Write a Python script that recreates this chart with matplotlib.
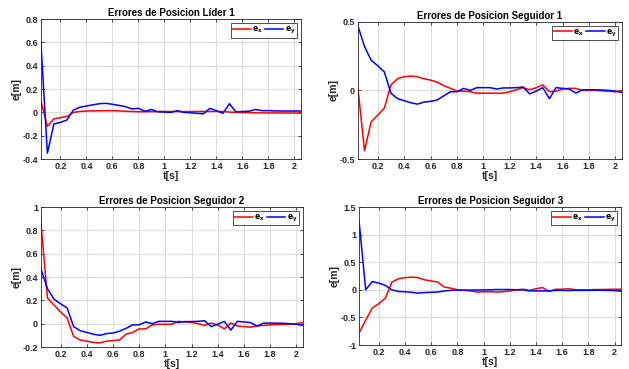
import matplotlib.pyplot as plt
import numpy as np

plt.rcParams['font.family'] = ['Liberation Sans', 'DejaVu Sans']
plt.rcParams['font.weight'] = 'bold'
plt.rcParams['mathtext.default'] = 'bf'

# time vector
t = np.round(np.arange(0.05, 2.051, 0.05), 2)

# errors of leader 1
lider_ex = [0.1, -0.12, -0.055, -0.045, -0.035, 0.0, 0.008, 0.012, 0.013, 0.014,
            0.015, 0.015, 0.013, 0.01, 0.008, 0.006, 0.006, 0.007, 0.008, 0.008,
            0.008, 0.008, 0.007, 0.007, 0.008, 0.008, 0.008, 0.009, 0.008, 0.003,
            0.0, -0.002, -0.002, -0.003, -0.004, -0.004, -0.004, -0.005, -0.005, -0.005,
            -0.006]
lider_ey = [0.6, -0.35, -0.1, -0.085, -0.065, 0.02, 0.045, 0.055, 0.065, 0.075,
            0.078, 0.07, 0.06, 0.05, 0.03, 0.035, 0.01, 0.025, 0.005, 0.003,
            0.0, 0.015, 0.0, -0.002, -0.008, -0.012, 0.035, 0.015, -0.008, 0.075,
            0.005, 0.008, 0.01, 0.025, 0.015, 0.015, 0.013, 0.012, 0.012, 0.012,
            0.012]

# errors of follower 1
seg1_ex = [0.02, -0.44, -0.23, -0.18, -0.13, 0.04, 0.085, 0.1, 0.105, 0.1,
           0.085, 0.075, 0.06, 0.035, 0.015, -0.005, -0.005, -0.01, -0.02, -0.02,
           -0.02, -0.02, -0.02, -0.01, 0.005, 0.02, 0.005, 0.02, 0.04, -0.01,
           -0.005, 0.01, 0.015, 0.015, 0.0, 0.0, 0.0, -0.003, -0.006, -0.01,
           0.0]
seg1_ey = [0.47, 0.32, 0.22, 0.18, 0.135, -0.02, -0.06, -0.075, -0.09, -0.1,
           -0.085, -0.08, -0.07, -0.04, -0.01, -0.01, 0.015, 0.0, 0.02, 0.02,
           0.02, 0.01, 0.018, 0.018, 0.02, 0.025, -0.025, -0.005, 0.02, -0.06,
           0.02, 0.015, 0.01, -0.02, 0.005, 0.005, 0.004, 0.003, 0.0, -0.005,
           -0.015]

# errors of follower 2
seg2_ex = [0.87, 0.22, 0.16, 0.1, 0.05, -0.11, -0.14, -0.15, -0.16, -0.165,
           -0.15, -0.145, -0.14, -0.09, -0.075, -0.045, -0.045, -0.01, -0.005, -0.005,
           -0.005, 0.02, 0.015, 0.01, 0.0, -0.015, 0.005, -0.01, -0.045, 0.005,
           -0.02, -0.025, -0.03, -0.02, -0.015, -0.01, -0.008, -0.006, -0.004, 0.0,
           0.01]
seg2_ey = [0.47, 0.3, 0.21, 0.17, 0.135, -0.025, -0.06, -0.075, -0.09, -0.1,
           -0.085, -0.08, -0.065, -0.04, -0.01, -0.01, 0.015, 0.0, 0.02, 0.02,
           0.02, 0.01, 0.018, 0.018, 0.02, 0.025, -0.025, -0.005, 0.02, -0.055,
           0.02, 0.015, 0.01, -0.02, 0.005, 0.005, 0.004, 0.003, 0.0, -0.005,
           -0.015]

# errors of follower 3
seg3_ex = [-0.78, -0.55, -0.33, -0.25, -0.15, 0.14, 0.2, 0.22, 0.23, 0.22,
           0.18, 0.16, 0.14, 0.05, 0.03, 0.0, -0.01, -0.02, -0.04, -0.035,
           -0.035, -0.04, -0.035, -0.02, 0.0, 0.01, -0.01, 0.02, 0.04, -0.03,
           0.01, 0.01, 0.02, 0.0, 0.0, 0.0, 0.005, 0.005, 0.008, 0.01,
           0.01]
seg3_ey = [1.23, 0.0, 0.15, 0.12, 0.08, 0.0, -0.03, -0.035, -0.045, -0.06,
           -0.05, -0.045, -0.04, -0.02, -0.01, -0.005, -0.005, -0.005, -0.003, -0.002,
           0.0, 0.005, 0.005, 0.005, 0.0, 0.0, -0.02, -0.02, -0.02, -0.02,
           -0.01, -0.01, -0.015, -0.01, -0.01, -0.01, -0.008, -0.008, -0.01, -0.015,
           -0.025]

titles = ['Errores de Posicion Líder 1', 'Errores de Posicion Seguidor 1',
          'Errores de Posicion Seguidor 2', 'Errores de Posicion Seguidor 3']
series = [(lider_ex, lider_ey), (seg1_ex, seg1_ey), (seg2_ex, seg2_ey), (seg3_ex, seg3_ey)]
ylims = [(-0.4, 0.8), (-0.5, 0.5), (-0.2, 1.0), (-1.0, 1.5)]
yticks = [np.arange(-0.4, 0.81, 0.2), [-0.5, 0, 0.5], np.arange(-0.2, 1.01, 0.2),
          np.arange(-1.0, 1.51, 0.5)]
positions = [[0.065, 0.569, 0.4134, 0.379], [0.569, 0.569, 0.42, 0.372],
             [0.065, 0.0596, 0.4165, 0.3794], [0.571, 0.065, 0.4165, 0.374]]

fig = plt.figure(figsize=(6.29, 3.69), dpi=100)
dark = '#262626'
for i in range(4):
    ax = fig.add_axes(positions[i])
    ex, ey = series[i]
    ax.plot(t, ex, color='red', lw=1.1, label='$e_x$')
    ax.plot(t, ey, color='blue', lw=1.1, label='$e_y$')
    ax.set_xlim(0.05, 2.05)
    ax.set_ylim(*ylims[i])
    ax.set_xticks(np.arange(0.2, 2.01, 0.2))
    ax.set_xticklabels(['0.2', '0.4', '0.6', '0.8', '1', '1.2', '1.4', '1.6', '1.8', '2'])
    ax.set_yticks(yticks[i])
    ax.set_yticklabels(['%g' % v for v in yticks[i]])
    ax.grid(True, color='#dedede', lw=0.8)
    ax.set_axisbelow(True)
    ax.tick_params(direction='in', labelsize=6.5, colors=dark, length=2.5, width=0.6,
                   top=True, right=True, pad=2)
    for s in ax.spines.values():
        s.set_color(dark)
        s.set_linewidth(0.6)
    ax.set_title(titles[i], fontsize=7, fontweight='bold', pad=2)
    ax.set_xlabel('t[s]', fontsize=7.5, fontweight='bold', labelpad=0, color=dark)
    ax.set_ylabel('e[m]', fontsize=7.5, fontweight='bold', labelpad=1, color=dark)
    leg = ax.legend(loc='upper right', ncol=2, fontsize=5.5, frameon=True, fancybox=False,
                    borderpad=0.2, handlelength=2.4, handletextpad=0.2, columnspacing=0.3,
                    borderaxespad=0.5)
    leg.get_frame().set_edgecolor('black')
    leg.get_frame().set_linewidth(0.6)

plt.savefig('out.png', dpi=100)
